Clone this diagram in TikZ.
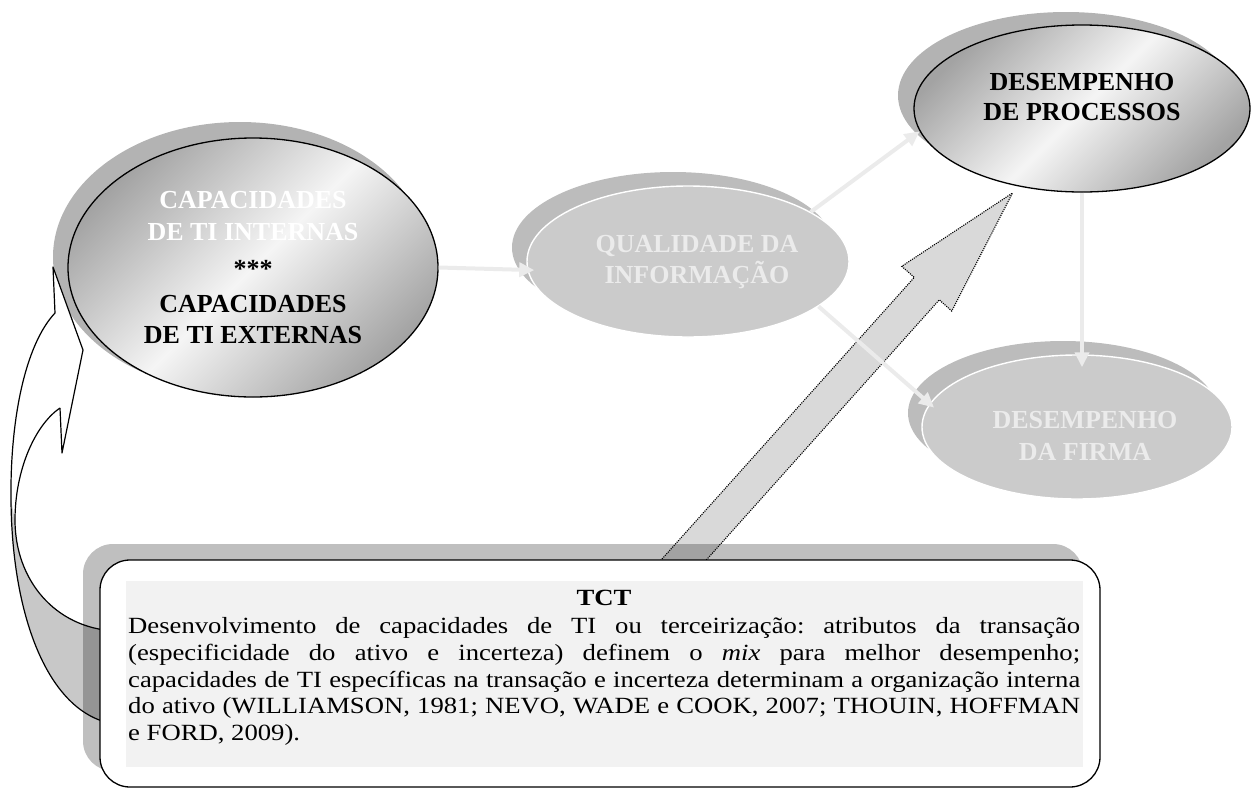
\documentclass[tikz,border=0pt]{standalone}
\usepackage{fontspec}
\setmainfont{Liberation Serif}
\newfontfamily\bodyfont[FakeStretch=1.15]{Liberation Serif}
\usetikzlibrary{shapes.geometric,arrows.meta}
\frenchspacing

\definecolor{shadowgray}{HTML}{B3B3B3}
\definecolor{flatshadow}{HTML}{BCBCBC}
\definecolor{flatfill}{HTML}{CBCBCB}
\definecolor{paletext}{HTML}{EBEBEB}
\definecolor{flowgray}{HTML}{EBEBEB}
\definecolor{blockgray}{HTML}{D9D9D9}
\definecolor{textbg}{HTML}{F2F2F2}
\definecolor{bandgray}{HTML}{C8C8C8}

\begin{document}
\begin{tikzpicture}[x=1pt,y=-1pt,
  ell/.style={ellipse, inner sep=0pt},
  shadowell/.style={ell, fill=#1},
  glossy/.style={ell, draw=black, line width=1.3pt,
    left color=black!36, right color=black!36, middle color=black!4,
    shading angle=45},
  flatell/.style={ell, fill=flatfill, draw=white, line width=1.4pt},
  lbl/.style={anchor=base, inner sep=0pt,
    font=\fontsize{26}{31}\selectfont\bfseries},
  flow/.style={draw=flowgray, line width=4pt,
    -{Triangle[length=15pt,width=14pt]}},
  body/.style={anchor=base west, inner sep=0pt,
    font=\bodyfont\fontsize{23.2}{27}\selectfont},
  outline/.style={line width=1.2pt, line join=round},
]
\useasboundingbox (0,0) rectangle (1254,796);

% ---------- ellipses ----------
\node[shadowell=shadowgray, minimum width=374pt, minimum height=270pt] (capsh) at (240,257) {};
\node[glossy, minimum width=370pt, minimum height=259pt] (cap) at (253,267.5) {};

\node[shadowell=flatshadow, minimum width=322pt, minimum height=151pt] (qualsh) at (673,247.5) {};
\node[flatell, minimum width=322pt, minimum height=151pt] (qual) at (688,261.5) {};

\node[shadowell=shadowgray, minimum width=336pt, minimum height=167pt] (procsh) at (1066,95.5) {};
\node[glossy, minimum width=336pt, minimum height=167pt] (proc) at (1082,108.5) {};

\node[shadowell=flatshadow, minimum width=310pt, minimum height=144pt] (firmash) at (1063,413) {};
\node[flatell, minimum width=310pt, minimum height=144pt] (firma) at (1077,427) {};

% ---------- ellipse labels ----------
\node[lbl, white] (capa1) at (253,208.5) {CAPACIDADES};
\node[lbl, white] (capa2) at (253,240) {DE TI INTERNAS};
\node[lbl] (capstar) at (253,277) {***};
\node[lbl] (capb1) at (253,312.5) {CAPACIDADES};
\node[lbl] (capb2) at (253,343) {DE TI EXTERNAS};

\node[lbl, paletext] (qual1) at (697,252) {QUALIDADE DA};
\node[lbl, paletext] (qual2) at (697,283) {INFORMAÇÃO};

\node[lbl] (proc1) at (1082,90) {DESEMPENHO};
\node[lbl] (proc2) at (1082,120) {DE PROCESSOS};

\node[lbl, paletext] (firma1) at (1085,428) {DESEMPENHO};
\node[lbl, paletext] (firma2) at (1085,460) {DA FIRMA};

% ---------- curved arrow from the TCT box back to the capabilities ----------
% front face
\fill[white] (55,313) -- (53,267) -- (83,350) -- (62,453) -- (60,408)
  .. controls (35,425) and (15,470) .. (15,520) -- (11,500)
  .. controls (10,420) and (25,345) .. (55,313) -- cycle;
% underside of the twisted tail
\fill[bandgray] (15,520) .. controls (15,580) and (55,628) .. (115,631)
  -- (115,724) .. controls (50,715) and (12,620) .. (11,500) -- cycle;
\draw[outline] (60,408) .. controls (35,425) and (15,470) .. (15,520)
  .. controls (15,580) and (55,628) .. (115,631);
\draw[outline] (115,724) .. controls (50,715) and (12,620) .. (11,500)
  .. controls (10,420) and (25,345) .. (55,313) -- (53,267) -- (83,350)
  -- (62,453) -- (60,408);

% ---------- dotted block arrow from the TCT box to process performance ----------
\draw[fill=blockgray, line width=1.1pt, dash pattern=on 1.1pt off 1.1pt]
  (657.6,563.9) -- (914.3,277.4) -- (901.8,266.3) -- (1012.5,193)
  -- (951.7,311) -- (939.3,299.8) -- (682.7,586.3) -- cycle;

% ---------- TCT box ----------
\node[fill=black, opacity=.25, rounded corners=30pt, minimum width=1000pt,
  minimum height=227pt, inner sep=0pt] (tctsh) at (583,657.5) {};
\node[draw, fill=white, line width=1.3pt, rounded corners=30pt,
  minimum width=1000pt, minimum height=227pt, inner sep=0pt] (tct) at (600,673.5) {};
\node[fill=textbg, minimum width=957pt, minimum height=186pt, inner sep=0pt]
  (tctbg) at (604.5,674) {};

\node[body, anchor=base, font=\bodyfont\fontsize{23.2}{27}\selectfont\bfseries]
  (tcthead) at (604,605) {TCT};
\node[body] (l1) at (128,633) {\makebox[952pt][s]{Desenvolvimento de capacidades de TI ou terceirização: atributos da transação}};
\node[body] (l2) at (128,660) {\makebox[952pt][s]{(especificidade do ativo e incerteza) definem o \textit{mix} para melhor desempenho;}};
\node[body] (l3) at (128,687) {\makebox[952pt][s]{capacidades de TI específicas na transação e incerteza determinam a organização interna}};
\node[body] (l4) at (128,713) {\makebox[952pt][s]{do ativo (WILLIAMSON, 1981; NEVO, WADE e COOK, 2007; THOUIN, HOFFMAN}};
\node[body] (l5) at (128,740) {e FORD, 2009).};

% ---------- flow arrows ----------
\draw[flow, shorten >=-7pt] (cap.east) -- (qual.183);
\draw[flow] (qual.22) -- (proc.188);
\draw[flow, shorten >=-6pt] (qual.341) -- (firma.171);
\draw[flow, shorten >=-13pt] (proc.south) -- (proc.south |- firma.north);
\end{tikzpicture}
\end{document}
